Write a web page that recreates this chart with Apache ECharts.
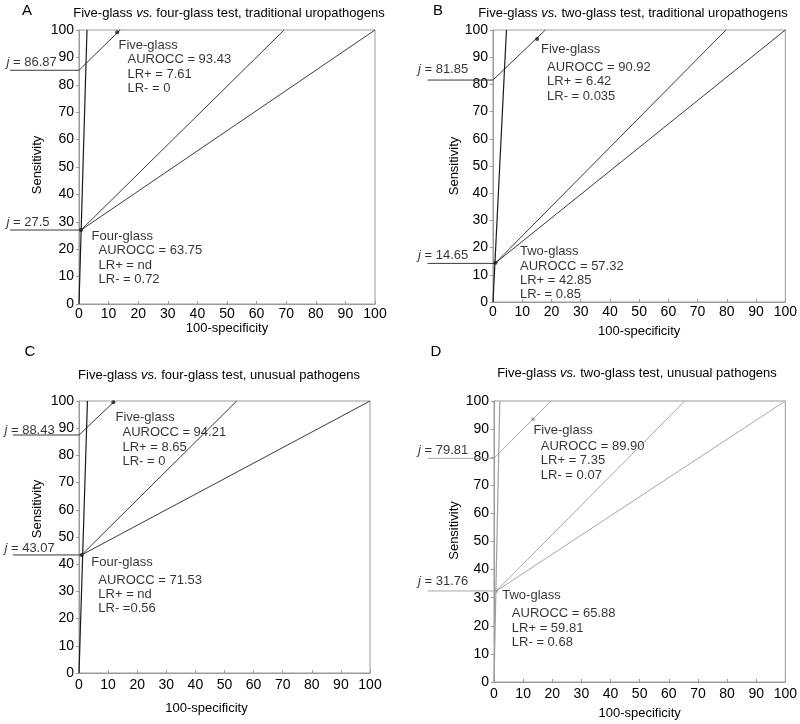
<!DOCTYPE html>
<html><head><meta charset="utf-8">
<script src="https://cdn.jsdelivr.net/npm/echarts@6/dist/echarts.min.js"></script>
<style>html,body{margin:0;padding:0;background:#fff}#c{width:800px;height:724px}</style>
</head><body><div id="c"></div>
<script>
// ---------- values ----------
const panelLetters = ['A', 'B', 'C', 'D'];
const panelTitles = [
  ['Five-glass ', 'vs.', ' four-glass test, traditional uropathogens'],
  ['Five-glass ', 'vs.', ' two-glass test, traditional uropathogens'],
  ['Five-glass ', 'vs.', ' four-glass test, unusual pathogens'],
  ['Five-glass ', 'vs.', ' two-glass test, unusual pathogens']
];
const xAxisTitle = '100-specificity';
const yAxisTitle = 'Sensitivity';

// Panel A
const aSteep = [[0, 0], [2.7, 100]];
const aFiveJLine = [[-23.3, 85.3], [0, 85.3], [13.9, 100]];
const aFivePoint = [[12.9, 99.2]];
const aOtherJLine = [[-23.3, 27.0], [0.7, 27.0]];
const aOtherPoint = [[0.7, 27.0]];
const aOtherToTop = [[0.7, 27.0], [69.3, 100]];
const aOtherToEnd = [[0.7, 27.0], [100, 100]];
const aJValues = ['86.87', '27.5'];
const aFiveText = ['Five-glass', 'AUROCC = 93.43', 'LR+ = 7.61', 'LR- = 0'];
const aOtherText = ['Four-glass', 'AUROCC = 63.75', 'LR+ = nd', 'LR- = 0.72'];
const aFiveAnchor = [13.5, 96.8];
const aOtherAnchor = [4.4, 27.3];

// Panel B
const bSteep = [[0, 0], [4.6, 100]];
const bFiveJLine = [[-22.4, 81.6], [0, 81.6], [17.9, 100]];
const bFivePoint = [[15.1, 96.7]];
const bOtherJLine = [[-22.4, 14.2], [0.9, 14.2]];
const bOtherPoint = [[0.9, 14.4]];
const bOtherToTop = [[0.9, 14.4], [79.7, 100]];
const bOtherToEnd = [[0.9, 14.4], [100, 100]];
const bJValues = ['81.85', '14.65'];
const bFiveText = ['Five-glass', 'AUROCC = 90.92', 'LR+ = 6.42', 'LR- = 0.035'];
const bOtherText = ['Two-glass', 'AUROCC = 57.32', 'LR+ = 42.85', 'LR- = 0.85'];
const bFiveAnchor = [16.6, 96.6];
const bOtherAnchor = [9.4, 21.0];

// Panel C
const cSteep = [[0, 0], [2.9, 100]];
const cFiveJLine = [[-22.7, 87.5], [0, 87.5], [12.3, 100]];
const cFivePoint = [[11.8, 99.5]];
const cOtherJLine = [[-22.7, 43.4], [0.9, 43.4]];
const cOtherPoint = [[0.9, 43.4]];
const cOtherToTop = [[0.9, 43.4], [54.2, 100]];
const cOtherToEnd = [[0.9, 43.4], [100, 100]];
const cJValues = ['88.43', '43.07'];
const cFiveText = ['Five-glass', 'AUROCC = 94.21', 'LR+ = 8.65', 'LR- = 0'];
const cOtherText = ['Four-glass', 'AUROCC = 71.53', 'LR+ = nd', 'LR- =0.56'];
const cFiveAnchor = [12.7, 96.5];
const cOtherAnchor = [4.4, 44.5];

// Panel D
const dSteep = [[0, 0], [2.0, 100]];
const dFiveJLine = [[-22.8, 79.6], [0, 79.6], [19.6, 100]];
const dFivePoint = [[13.4, 93.5]];
const dOtherJLine = [[-22.8, 32.4], [0.8, 32.4]];
const dOtherPoint = [[0.8, 32.4]];
const dOtherToTop = [[0.8, 32.4], [65.5, 100]];
const dOtherToEnd = [[0.8, 32.4], [100, 100]];
const dJValues = ['79.81', '31.76'];
const dFiveText = ['Five-glass', 'AUROCC = 89.90', 'LR+ = 7.35', 'LR- = 0.07'];
const dOtherText = ['Two-glass', 'AUROCC = 65.88', 'LR+ = 59.81', 'LR- = 0.68'];
const dFiveAnchor = [13.7, 92.3];
const dOtherAnchor = [3.0, 34.4];

// ---------- layout / style ----------
const FONT = '"Liberation Sans", Arial, Helvetica, sans-serif';
const panels = [
  { grid: {left: 79, top: 30, width: 296, height: 274}, color: '#3a3a3a', steepColor: '#1a1a1a',
    title: {x: 229, y: 13}, letter: {x: 27, y: 11}, yGap: 35, yShift: 2, xGap: 15, xLabelMargin: 3, xNamePad: 0,
    steep: aSteep, fiveJ: aFiveJLine, fivePt: aFivePoint, otherJ: aOtherJLine, otherPt: aOtherPoint,
    otherTop: aOtherToTop, otherEnd: aOtherToEnd, jv: aJValues,
    fiveText: aFiveText, otherText: aOtherText, fiveAnchor: aFiveAnchor, otherAnchor: aOtherAnchor,
    fiveStyle: {h: 14.5, ind: 9}, otherStyle: {h: 15, ind: 7}, jOff: [[-3, -1], [-3, -1]] },
  { grid: {left: 493, top: 30, width: 295, height: 272}, color: '#3a3a3a', steepColor: '#1a1a1a',
    title: {x: 633, y: 13}, letter: {x: 438, y: 11}, yGap: 32, yShift: 0, xGap: 23, xLabelMargin: 3, xNamePad: 0,
    steep: bSteep, fiveJ: bFiveJLine, fivePt: bFivePoint, otherJ: bOtherJLine, otherPt: bOtherPoint,
    otherTop: bOtherToTop, otherEnd: bOtherToEnd, jv: bJValues,
    fiveText: bFiveText, otherText: bOtherText, fiveAnchor: bFiveAnchor, otherAnchor: bOtherAnchor,
    fiveStyle: {h: 21.7, ind: 6}, otherStyle: {h: 14.5, ind: 0}, jOff: [[-9, -4], [-9, -1]] },
  { grid: {left: 79, top: 401, width: 291, height: 272}, color: '#3a3a3a', steepColor: '#1a1a1a',
    title: {x: 219, y: 375}, letter: {x: 30, y: 352}, yGap: 35, yShift: 28, xGap: 29, xLabelMargin: 5, xNamePad: 36,
    steep: cSteep, fiveJ: cFiveJLine, fivePt: cFivePoint, otherJ: cOtherJLine, otherPt: cOtherPoint,
    otherTop: cOtherToTop, otherEnd: cOtherToEnd, jv: cJValues,
    fiveText: cFiveText, otherText: cOtherText, fiveAnchor: cFiveAnchor, otherAnchor: cOtherAnchor,
    fiveStyle: {h: 15.7, ind: 7}, otherStyle: {h: 21.7, ind: 7}, jOff: [[-8, 2], [-8, 0]] },
  { grid: {left: 494, top: 401, width: 294, height: 281}, color: '#a8a8a8', steepColor: '#a0a0a0',
    title: {x: 637, y: 373}, letter: {x: 436, y: 352}, yGap: 33, yShift: 11, xGap: 25, xLabelMargin: 5, xNamePad: 0,
    steep: dSteep, fiveJ: dFiveJLine, fivePt: dFivePoint, otherJ: dOtherJLine, otherPt: dOtherPoint,
    otherTop: dOtherToTop, otherEnd: dOtherToEnd, jv: dJValues,
    fiveText: dFiveText, otherText: dOtherText, fiveAnchor: dFiveAnchor, otherAnchor: dOtherAnchor,
    fiveStyle: {h: 17.1, ind: 7.4}, otherStyle: {h: 21.7, ind: 9.6}, jOff: [[-9, -1], [-9, -3]] }
];

const grids = [], xAxes = [], yAxes = [], series = [], graphics = [];

function lineSeries(i, data, color, width) {
  return { type: 'line', xAxisIndex: i, yAxisIndex: i, data: data, clip: false, showSymbol: false,
    silent: true, animation: false, lineStyle: {color: color, width: width}, z: 3 };
}
function blockLabel(i, anchor, lines, st) {
  const txt = '{h|' + lines[0] + '}' + lines.slice(1).map(l => '\n{b|' + l + '}').join('');
  return { type: 'scatter', xAxisIndex: i, yAxisIndex: i, data: [anchor], symbolSize: 1, clip: false,
    silent: true, animation: false, itemStyle: {color: 'rgba(0,0,0,0)'}, z: 5,
    label: { show: true, position: [0, 0], align: 'left', verticalAlign: 'top', formatter: txt,
      rich: { h: {fontSize: 13, fontFamily: FONT, color: '#000', lineHeight: st.h},
              b: {fontSize: 13, fontFamily: FONT, color: '#000', lineHeight: 14.3, padding: [0, 0, 0, st.ind]} } } };
}
function jLabel(i, pt, val, off) {
  return { type: 'scatter', xAxisIndex: i, yAxisIndex: i, data: [pt], symbolSize: 1, clip: false,
    silent: true, animation: false, itemStyle: {color: 'rgba(0,0,0,0)'}, z: 5,
    label: { show: true, position: [0, 0], align: 'left', verticalAlign: 'bottom', offset: off,
      formatter: '{i|j} = ' + val,
      fontSize: 13, fontFamily: FONT, color: '#000',
      rich: { i: {fontStyle: 'italic', fontSize: 13, fontFamily: FONT, color: '#000'} } } };
}

panels.forEach((p, i) => {
  grids.push(Object.assign({show: true, borderColor: '#9a9a9a', borderWidth: 1, backgroundColor: 'transparent'}, p.grid));
  xAxes.push({ type: 'value', gridIndex: i, min: 0, max: 100, interval: 10,
    name: xAxisTitle, nameLocation: 'middle', nameGap: p.xGap,
    nameTextStyle: {fontSize: 13, fontFamily: FONT, color: '#000', padding: [0, p.xNamePad, 0, 0]},
    axisLine: {lineStyle: {color: '#9a9a9a'}}, splitLine: {show: false},
    axisTick: {inside: true, length: 3, lineStyle: {color: '#9a9a9a'}},
    axisLabel: {fontSize: 14, fontFamily: FONT, color: '#000', margin: p.xLabelMargin} });
  yAxes.push({ type: 'value', gridIndex: i, min: 0, max: 100, interval: 10,
    name: yAxisTitle, nameLocation: 'middle', nameGap: p.yGap,
    nameTextStyle: {fontSize: 13, fontFamily: FONT, color: '#000', padding: [0, 0, 0, 2 * p.yShift]},
    axisLine: {lineStyle: {color: '#9a9a9a'}}, splitLine: {show: false},
    axisTick: {inside: false, length: 3, lineStyle: {color: '#9a9a9a'}},
    axisLabel: {fontSize: 14, fontFamily: FONT, color: '#000', margin: 5} });

  series.push(lineSeries(i, p.otherEnd, p.color, 1));
  series.push(lineSeries(i, p.otherTop, p.color, 1));
  series.push(lineSeries(i, p.fiveJ.slice(1), p.color, 1));
  series.push(lineSeries(i, p.steep, p.steepColor, 1.2));
  series.push({ type: 'scatter', xAxisIndex: i, yAxisIndex: i, data: p.fivePt.concat(p.otherPt),
    symbolSize: 4, silent: true, animation: false, clip: false, itemStyle: {color: p.steepColor}, z: 4 });
  series.push(blockLabel(i, p.fiveAnchor, p.fiveText, p.fiveStyle));
  series.push(blockLabel(i, p.otherAnchor, p.otherText, p.otherStyle));
  series.push(jLabel(i, p.fiveJ[0], p.jv[0], p.jOff[0]));
  series.push(jLabel(i, p.otherJ[0], p.jv[1], p.jOff[1]));

  const t = panelTitles[i];
  graphics.push({ type: 'text', x: p.title.x, y: p.title.y, silent: true,
    style: { text: '{n|' + t[0] + '}{it|' + t[1] + '}{n|' + t[2] + '}', align: 'center', verticalAlign: 'middle',
      rich: { n: {fontSize: 13, fontFamily: FONT, fill: '#000'}, it: {fontSize: 13, fontFamily: FONT, fontStyle: 'italic', fill: '#000'} } } });
  graphics.push({ type: 'text', x: p.letter.x, y: p.letter.y, silent: true,
    style: { text: panelLetters[i], fontSize: 15, fontFamily: FONT, fill: '#000', align: 'center', verticalAlign: 'middle' } });
});

const chart = echarts.init(document.getElementById('c'), null, {renderer: 'canvas'});
chart.setOption({ backgroundColor: '#fff', animation: false, grid: grids, xAxis: xAxes, yAxis: yAxes, series: series, graphic: graphics });

// horizontal j-lines reach outside the plotting area: map their data points through the grid's scales
const jLines = [];
panels.forEach((p, i) => {
  [p.fiveJ.slice(0, 2), p.otherJ].forEach(seg => {
    const pts = seg.map(d => chart.convertToPixel({gridIndex: i}, d));
    jLines.push({ type: 'polyline', silent: true, z: 3,
      shape: {points: pts}, style: {stroke: p.color, lineWidth: 1, fill: null} });
  });
});
chart.setOption({ graphic: graphics.concat(jLines) });
</script></body></html>
